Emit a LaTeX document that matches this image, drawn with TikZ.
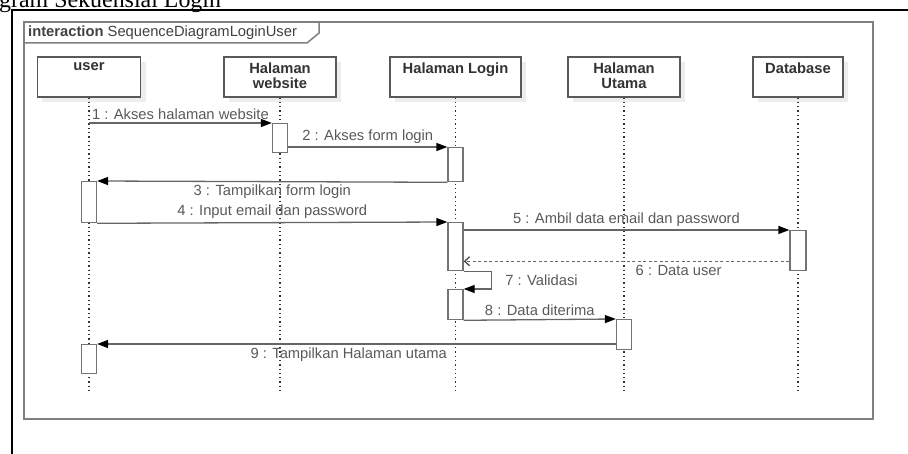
\documentclass[tikz,border=0pt]{standalone}
\usepackage{fontspec}
\setmainfont{Liberation Serif}
\setsansfont{Liberation Sans}
\usetikzlibrary{arrows.meta}

\tikzset{
  head/.style={draw=black!65, line width=1.2bp, fill=white, minimum height=40bp, inner sep=0pt,
    preaction={fill=black!7, transform canvas={shift={(5bp,-5bp)}}}},
  headname/.style={font=\sffamily\bfseries\fontsize{14.8}{15}\selectfont, text=black!80, align=center, inner sep=0pt, yshift=-6bp},
  life/.style={black!80, line width=1.3bp, dash pattern=on 1.3bp off 3bp},
  act/.style={draw=black!55, line width=1.3bp, fill=white, minimum width=15bp, inner sep=0pt, anchor=north},
  msg/.style={black!60, line width=1.3bp, -{Triangle[black, length=11bp, width=8bp]}},
  reply/.style={black!60, line width=1.3bp, dash pattern=on 3bp off 2.5bp, -{Straight Barb[black!70, length=5bp, width=9bp]}},
  lbl/.style={font=\sffamily\fontsize{14.8}{15}\selectfont, text=black!65, inner sep=3bp},
  frame/.style={draw=black!50, line width=1.5bp},
}

\begin{document}
\begin{tikzpicture}[x=1bp, y=-1bp]
  \useasboundingbox (0,0) rectangle (908,454);

  \node[anchor=base west, inner sep=0pt, font=\rmfamily\fontsize{24}{24}\selectfont] (title) at (-1,8) {gram Sekuensial Login};
  \draw[black, line width=1.6bp] (908,10) -- (12,10) -- (12,454);

  \draw[frame] (24,22) rectangle (873,419);
  \draw[frame] (24,43) -- (307,43) -- (319,33) -- (319,22);
  \node[anchor=west, inner sep=0pt, font=\sffamily\fontsize{14.8}{15}\selectfont, text=black!75] (frametitle) at (28,32.5)
    {\textbf{interaction} SequenceDiagramLoginUser};

  \node[head, minimum width=103bp, label={[headname, anchor=north]north:user}] (user) at (89,77) {};
  \node[head, minimum width=112bp, label={[headname, anchor=north]north:Halaman\\website}] (web) at (280,77) {};
  \node[head, minimum width=131bp, label={[headname, anchor=north]north:Halaman Login}] (login) at (455.5,77) {};
  \node[head, minimum width=112bp, label={[headname, anchor=north]north:Halaman\\Utama}] (utama) at (624,77) {};
  \node[head, minimum width=90bp, label={[headname, anchor=north]north:Database}] (db) at (798,77) {};

  \foreach \n in {user,web,login,utama,db}
    \draw[life] (\n.south) -- (\n.south |- 0,391);

  \node[act, minimum height=29bp] (a1) at (280,123) {};
  \node[act, minimum height=34bp] (a2) at (455.5,147) {};
  \node[act, minimum height=41bp] (a3) at (89,181) {};
  \node[act, minimum height=48bp] (a4) at (455.5,222) {};
  \node[act, minimum height=40bp, minimum width=16bp] (a5) at (798,230) {};
  \node[act, minimum height=30bp] (a6) at (455.5,289) {};
  \node[act, minimum height=30bp] (a7) at (624,319) {};
  \node[act, minimum height=29bp] (a8) at (89,344) {};

  \draw[msg] (user |- a1.north) -- node[lbl, above] {1 : Akses halaman website} (a1.north west);
  \draw[msg] (a1.east |- a2.north) -- node[lbl, above] {2 : Akses form login} (a2.north west);
  \draw[msg] (a2.south west) -- node[lbl, below] {3 : Tampilkan form login} (a3.north east);
  \draw[msg] (a3.south east) -- node[lbl, above] {4 : Input email dan password} (a4.north west);
  \draw[msg] (a4.east |- a5.north) -- node[lbl, above] {5 : Ambil data email dan password} (a5.north west);
  \draw[reply] ([yshift=10bp]a5.south west) -- node[lbl, below, pos=0.34] {6 : Data user} ([yshift=10bp]a5.south west -| a4.east);
  \draw[msg] (a4.south east) -- ++(28,0) |- node[lbl, right=10bp, pos=0.25] {7 : Validasi} (a6.north east);
  \draw[msg] (a6.south east) -- node[lbl, above] {8 : Data diterima} (a7.north west);
  \draw[msg] (a7.west |- a8.north) -- node[lbl, below, pos=0.515] {9 : Tampilkan Halaman utama} (a8.north east);
\end{tikzpicture}
\end{document}
